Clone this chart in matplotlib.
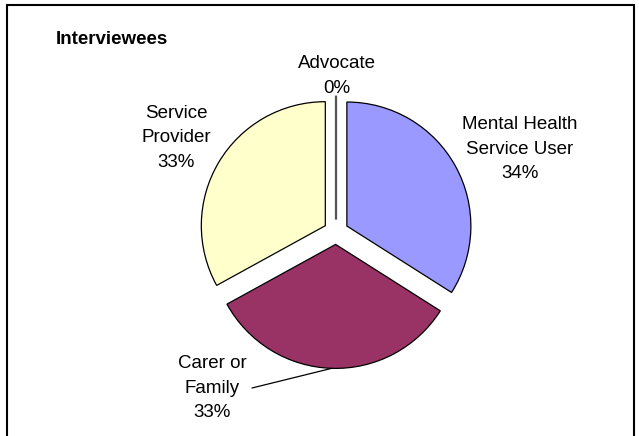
import numpy as np
import matplotlib.pyplot as plt
from matplotlib.patches import Rectangle

# Interviewees breakdown
categories = ["Mental Health\nService User", "Carer or\nFamily", "Service\nProvider", "Advocate"]
shares = [34, 33, 33, 0]
colors = ["#9999FF", "#993366", "#FFFFCC", "#FFFFFF"]

plt.rcParams['font.family'] = ['Liberation Sans', 'DejaVu Sans']

W, H = 639, 436
fig = plt.figure(figsize=(W / 100, H / 100), dpi=100)
ax = fig.add_axes([0, 0, 1, 1])

# pie centre / radius in pixels
cx, cy, R = 336, 232, 124


def to_data(px, py):
    return (px - cx) / R, (cy - py) / R


wedges, _ = ax.pie(shares, colors=colors, startangle=90, counterclock=False,
                   explode=[0.1] * len(shares), radius=1,
                   wedgeprops=dict(edgecolor="black", linewidth=0.9))
wedges[3].set_edgecolor("#555555")
wedges[3].set_linewidth(1.6)

ax.set_xlim(to_data(0, 0)[0], to_data(W, 0)[0])
ax.set_ylim(to_data(0, H)[1], to_data(0, 0)[1])
ax.axis('off')

# data labels
label_pos = [(520, 149), (212, 388), (176, 138), (337, 76)]
for name, v, (px, py) in zip(categories, shares, label_pos):
    x, y = to_data(px, py)
    ax.text(x, y, f"{name}\n{v}%", ha="center", va="center", fontsize=13.5,
            linespacing=1.6, color="black")

# leader line for Carer or Family
w = wedges[1]
mid = np.deg2rad((w.theta1 + w.theta2) / 2)
tip = (w.center[0] + w.r * np.cos(mid), w.center[1] + w.r * np.sin(mid))
ax.annotate("", xy=tip, xytext=to_data(252, 388),
            arrowprops=dict(arrowstyle="-", color="black", lw=0.9,
                            shrinkA=0, shrinkB=0))

fig.text(56 / W, 1 - 39 / H, "Interviewees", ha="left", va="center",
         fontsize=13.5, fontweight="bold")

fig.patches.append(Rectangle((7 / W, -0.05), (634 - 7) / W, 1 - 5 / H + 0.05,
                             transform=fig.transFigure, fill=False,
                             lw=1.5, ec="black"))

fig.savefig("out.png", dpi=100)
